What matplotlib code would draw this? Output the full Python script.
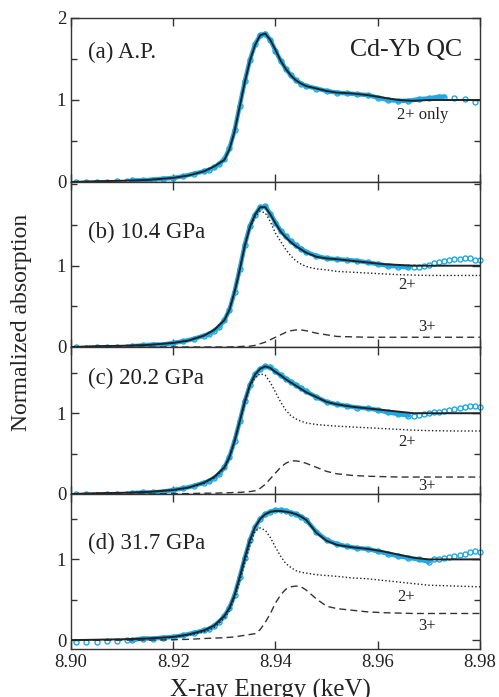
import numpy as np
import matplotlib
matplotlib.use('Agg')
import matplotlib.pyplot as plt
from matplotlib.ticker import MultipleLocator

plt.rcParams['font.family'] = ['Liberation Serif', 'DejaVu Serif']

# energy grid (keV) for the fit and the 2+ / 3+ components
E_LINE = [8.900, 8.905, 8.910, 8.915, 8.920, 8.923, 8.926, 8.928, 8.930, 8.931,
          8.932, 8.933, 8.934, 8.935, 8.936, 8.937, 8.938, 8.939, 8.940, 8.941,
          8.942, 8.943, 8.944, 8.945, 8.946, 8.948, 8.950, 8.952, 8.955, 8.958,
          8.961, 8.964, 8.967, 8.970, 8.975, 8.980]

FIT_A = [0.00, 0.01, 0.015, 0.025, 0.05, 0.08, 0.13, 0.19, 0.27, 0.40,
         0.62, 0.92, 1.22, 1.48, 1.67, 1.79, 1.81, 1.73, 1.61, 1.48,
         1.38, 1.30, 1.24, 1.20, 1.17, 1.14, 1.11, 1.09, 1.08, 1.06,
         1.03, 1.00, 0.99, 1.00, 1.00, 1.00]

FIT_B = [0.00, 0.01, 0.015, 0.025, 0.05, 0.08, 0.14, 0.21, 0.33, 0.46,
         0.68, 0.95, 1.25, 1.48, 1.63, 1.72, 1.72, 1.63, 1.52, 1.42,
         1.35, 1.29, 1.24, 1.20, 1.16, 1.11, 1.09, 1.08, 1.06, 1.04,
         1.02, 1.01, 1.00, 1.00, 1.00, 1.00]
TWO_B = [0.00, 0.01, 0.015, 0.025, 0.05, 0.08, 0.14, 0.21, 0.33, 0.46,
         0.68, 0.94, 1.24, 1.46, 1.60, 1.67, 1.65, 1.54, 1.40, 1.30,
         1.20, 1.12, 1.06, 1.02, 0.99, 0.96, 0.95, 0.93, 0.92, 0.91,
         0.90, 0.89, 0.885, 0.88, 0.88, 0.88]
THREE_B = [0.0, 0.0, 0.0, 0.0, 0.0, 0.0, 0.0, 0.0, 0.0, 0.0,
           0.005, 0.005, 0.01, 0.01, 0.02, 0.04, 0.06, 0.09, 0.12, 0.15,
           0.18, 0.20, 0.21, 0.21, 0.20, 0.17, 0.15, 0.13, 0.125, 0.12,
           0.12, 0.12, 0.12, 0.12, 0.12, 0.12]

FIT_C = [0.00, 0.01, 0.015, 0.025, 0.05, 0.08, 0.14, 0.21, 0.33, 0.46,
         0.66, 0.90, 1.15, 1.35, 1.48, 1.55, 1.58, 1.56, 1.51, 1.47,
         1.42, 1.38, 1.34, 1.30, 1.26, 1.20, 1.14, 1.11, 1.08, 1.06,
         1.04, 1.02, 1.00, 1.00, 1.00, 1.00]
TWO_C = [0.00, 0.01, 0.015, 0.025, 0.045, 0.075, 0.13, 0.20, 0.315, 0.445,
         0.64, 0.88, 1.125, 1.33, 1.44, 1.49, 1.47, 1.38, 1.26, 1.14,
         1.04, 0.97, 0.93, 0.90, 0.88, 0.86, 0.85, 0.84, 0.83, 0.82,
         0.81, 0.80, 0.79, 0.785, 0.78, 0.78]
THREE_C = [0.0, 0.0, 0.0, 0.0, 0.005, 0.005, 0.01, 0.01, 0.015, 0.015,
           0.02, 0.02, 0.025, 0.03, 0.04, 0.07, 0.12, 0.19, 0.26, 0.33,
           0.38, 0.41, 0.41, 0.40, 0.38, 0.33, 0.28, 0.25, 0.23, 0.22,
           0.215, 0.21, 0.21, 0.21, 0.21, 0.21]

FIT_D = [0.00, 0.005, 0.01, 0.02, 0.04, 0.07, 0.12, 0.18, 0.30, 0.40,
         0.56, 0.78, 1.02, 1.24, 1.40, 1.50, 1.56, 1.59, 1.60, 1.60,
         1.59, 1.58, 1.56, 1.53, 1.49, 1.33, 1.23, 1.18, 1.15, 1.13,
         1.10, 1.06, 1.02, 1.00, 1.00, 1.00]
TWO_D = [0.00, 0.005, 0.01, 0.02, 0.035, 0.06, 0.10, 0.155, 0.27, 0.365,
         0.52, 0.73, 0.96, 1.17, 1.35, 1.39, 1.36, 1.27, 1.15, 1.04,
         0.95, 0.90, 0.86, 0.84, 0.83, 0.81, 0.80, 0.79, 0.77, 0.76,
         0.74, 0.72, 0.70, 0.68, 0.67, 0.66]
THREE_D = [0.0, 0.0, 0.0, 0.0, 0.005, 0.01, 0.02, 0.025, 0.03, 0.035,
           0.04, 0.05, 0.06, 0.07, 0.08, 0.13, 0.22, 0.33, 0.46, 0.56,
           0.63, 0.66, 0.67, 0.66, 0.62, 0.51, 0.42, 0.39, 0.37, 0.35,
           0.34, 0.335, 0.33, 0.33, 0.33, 0.33]

# measured spectra: common energies, then a per-panel high energy tail
E_DATA = [8.901, 8.903, 8.905, 8.907, 8.909, 8.911,
          8.912, 8.914, 8.916, 8.918, 8.920, 8.922, 8.924, 8.926,
          8.927, 8.928, 8.929, 8.930, 8.931, 8.932, 8.933, 8.934, 8.935, 8.936,
          8.937, 8.938, 8.939, 8.940, 8.941, 8.942, 8.943, 8.944, 8.945, 8.946,
          8.948, 8.950, 8.952, 8.954, 8.956, 8.958, 8.960, 8.962, 8.964, 8.966]

MU_A = [0.00, 0.00, 0.00, 0.00, 0.01, 0.01,
        0.02, 0.02, 0.03, 0.04, 0.05, 0.07, 0.10, 0.13,
        0.15, 0.18, 0.22, 0.28, 0.41, 0.63, 0.93, 1.23, 1.49, 1.68,
        1.79, 1.81, 1.73, 1.60, 1.48, 1.38, 1.30, 1.24, 1.20, 1.17,
        1.14, 1.11, 1.09, 1.08, 1.07, 1.06, 1.03, 1.00, 0.99, 0.99]
TAIL_E_A = [8.968, 8.970, 8.972, 8.973, 8.975, 8.977, 8.979]
TAIL_MU_A = [1.01, 1.02, 1.04, 1.04, 1.03, 1.01, 0.97]

MU_B = [0.00, -0.01, 0.00, 0.00, 0.00, 0.00,
        0.01, 0.02, 0.03, 0.03, 0.05, 0.07, 0.10, 0.14,
        0.16, 0.20, 0.25, 0.33, 0.46, 0.68, 0.96, 1.26, 1.49, 1.63,
        1.72, 1.73, 1.64, 1.53, 1.43, 1.36, 1.30, 1.25, 1.21, 1.17,
        1.12, 1.09, 1.08, 1.07, 1.06, 1.04, 1.02, 1.00, 0.99, 0.98]
TAIL_E_B = [8.967, 8.968, 8.969, 8.970, 8.971, 8.972, 8.973, 8.974, 8.975,
            8.976, 8.977, 8.978, 8.979, 8.980]
TAIL_MU_B = [0.98, 0.99, 1.00, 1.01, 1.03, 1.04, 1.06, 1.07, 1.08,
             1.08, 1.09, 1.10, 1.07, 1.07]

MU_C = [0.00, 0.00, -0.01, 0.00, 0.00, 0.00,
        0.01, 0.02, 0.02, 0.03, 0.05, 0.07, 0.10, 0.14,
        0.16, 0.20, 0.25, 0.33, 0.46, 0.66, 0.90, 1.15, 1.35, 1.48,
        1.55, 1.58, 1.57, 1.52, 1.47, 1.43, 1.39, 1.35, 1.31, 1.27,
        1.20, 1.14, 1.11, 1.09, 1.07, 1.06, 1.04, 1.01, 0.99, 0.97]
TAIL_E_C = [8.967, 8.968, 8.969, 8.970, 8.971, 8.972, 8.973, 8.974, 8.975,
            8.976, 8.977, 8.978, 8.979, 8.980]
TAIL_MU_C = [0.97, 0.98, 0.99, 1.00, 1.01, 1.02, 1.03, 1.04, 1.05,
             1.07, 1.08, 1.09, 1.09, 1.08]

MU_D = [-0.02, -0.02, -0.02, -0.01, -0.01, 0.00,
        0.00, 0.02, 0.02, 0.03, 0.04, 0.06, 0.09, 0.12,
        0.14, 0.18, 0.23, 0.30, 0.40, 0.56, 0.78, 1.02, 1.24, 1.40,
        1.50, 1.56, 1.59, 1.61, 1.61, 1.60, 1.58, 1.56, 1.53, 1.49,
        1.34, 1.24, 1.19, 1.16, 1.14, 1.13, 1.10, 1.07, 1.04, 1.02]
TAIL_E_D = [8.968, 8.970, 8.971, 8.972, 8.973, 8.974, 8.975, 8.976, 8.977,
            8.978, 8.979, 8.980]
TAIL_MU_D = [1.00, 0.97, 1.00, 1.01, 1.02, 1.03, 1.04, 1.05, 1.07,
             1.09, 1.10, 1.09]

X_TICKS = [8.90, 8.92, 8.94, 8.96, 8.98]
X_TICK_LABELS = ['8.90', '8.92', '8.94', '8.96', '8.98']
PANEL_LABELS = ['(a) A.P.', '(b) 10.4 GPa', '(c) 20.2 GPa', '(d) 31.7 GPa']
BAND_END = [8.9735, 8.9665, 8.9665, 8.9705]

BLUE = '#1fa9e6'
INK = '#222222'


def main():
    fig = plt.figure(figsize=(4.99, 6.97), dpi=100)
    gs = fig.add_gridspec(4, 1, left=71/499, right=480/499, top=1-18/697,
                          bottom=1-649/697, hspace=0,
                          height_ratios=[164, 165, 147, 155])
    axes = [fig.add_subplot(gs[i]) for i in range(4)]

    data = [(MU_A, TAIL_E_A, TAIL_MU_A), (MU_B, TAIL_E_B, TAIL_MU_B),
            (MU_C, TAIL_E_C, TAIL_MU_C), (MU_D, TAIL_E_D, TAIL_MU_D)]
    fits = [FIT_A, FIT_B, FIT_C, FIT_D]
    twos = [None, TWO_B, TWO_C, TWO_D]
    threes = [None, THREE_B, THREE_C, THREE_D]
    ylims = [(0, 2.0), (0, 2.03), (0, 1.82), (-0.11, 1.81)]
    label_y = [1.585, 1.41, 1.43, 1.20]

    for i, ax in enumerate(axes):
        mu, te, tm = data[i]
        e = np.array(E_DATA + te)
        m = np.array(mu + tm)
        band = (e > 8.9115) & (e < BAND_END[i])
        # dense part of the scan looks like a solid band
        ax.plot(e[band], m[band], '-', color=BLUE, lw=3.2, zorder=2,
                solid_capstyle='round')
        ax.plot(e, m, 'o', mfc='none', mec=BLUE, ms=3.6, mew=1.0,
                zorder=2, clip_on=False)
        ax.plot(E_LINE, fits[i], '-', color=INK, lw=1.4, zorder=4)
        if twos[i] is not None:
            ax.plot(E_LINE, twos[i], color=INK, lw=1.0,
                    dashes=(1, 1.6), zorder=3)
            ax.plot(E_LINE, threes[i], color='#333333', lw=1.0,
                    dashes=(5, 3), zorder=3)

        ax.set_xlim(8.90, 8.98)
        ax.set_ylim(*ylims[i])
        ax.set_xticks(X_TICKS)
        ax.set_yticks([0, 1, 2] if i == 0 else [0, 1])
        ax.yaxis.set_minor_locator(MultipleLocator(0.5))
        ax.tick_params(which='both', direction='in', top=True, right=True,
                       labelsize=13.5, width=1.0, color='#333333',
                       labelcolor=INK)
        ax.tick_params(which='major', length=6)
        ax.tick_params(which='minor', length=4)
        for s in ax.spines.values():
            s.set_linewidth(1.0)
            s.set_color('#333333')
        if i < 3:
            ax.set_xticklabels([])
        else:
            ax.set_xticklabels(X_TICK_LABELS)

        ax.text(0.042, label_y[i], PANEL_LABELS[i],
                transform=ax.get_yaxis_transform(),
                fontsize=16.5, ha='left', va='center', color=INK)

    axes[0].text(8.9765, 1.61, 'Cd-Yb QC', fontsize=18.5, ha='right',
                 va='center', color=INK)
    axes[0].text(8.9687, 0.82, '2+ only', fontsize=12, ha='center',
                 va='center', color=INK)
    axes[1].text(8.9657, 0.76, '2+', fontsize=12, ha='center', va='center', color=INK)
    axes[1].text(8.9696, 0.24, '3+', fontsize=12, ha='center', va='center', color=INK)
    axes[2].text(8.9657, 0.64, '2+', fontsize=12, ha='center', va='center', color=INK)
    axes[2].text(8.9696, 0.105, '3+', fontsize=12, ha='center', va='center', color=INK)
    axes[3].text(8.9655, 0.53, '2+', fontsize=12, ha='center', va='center', color=INK)
    axes[3].text(8.9696, 0.17, '3+', fontsize=12, ha='center', va='center', color=INK)

    fig.text(22/499, 1-322/697, 'Normalized absorption', rotation=90,
             fontsize=17, ha='center', va='center', color=INK)
    fig.text(270/499, 1-679/697, 'X-ray Energy (keV)', fontsize=18,
             ha='center', va='top', color=INK)

    fig.savefig('out.png', dpi=100)


if __name__ == '__main__':
    main()
